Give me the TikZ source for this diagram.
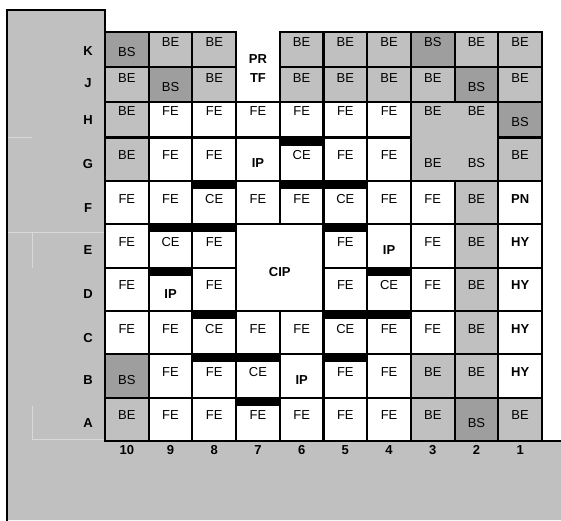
\documentclass[tikz,border=0pt]{standalone}
\usepackage{fontspec}
\setmainfont{Liberation Sans}
\definecolor{lg}{HTML}{C0C0C0}
\definecolor{dg}{HTML}{9E9E9E}
\definecolor{faint}{HTML}{D8D8D8}
\begin{document}
\begin{tikzpicture}[x=1pt,y=-1pt,
  gridline/.style={line width=2.1pt, line cap=rect},
  lbl/.style={anchor=base, inner sep=0pt, font=\fontsize{13}{15}\selectfont},
  hdr/.style={anchor=base, inner sep=0pt, font=\fontsize{13}{15}\selectfont\bfseries},
  faintline/.style={draw=faint, line width=0.8pt}]
\useasboundingbox (0,0) rectangle (561,520);
% background panel
\fill[lg] (7,10) -- (105,10) -- (105,441) -- (561,441) -- (561,520) -- (7,520) -- cycle;
\draw[faintline] (7,137) -- (32,137);
\draw[faintline] (7,232.5) -- (105,232.5);
\draw[faintline] (32,232.5) -- (32,268);
\draw[faintline] (32,406) -- (32,439) -- (105,439);
% light gray cells
\foreach \c/\ya/\yb in {9/32/67,8/32/67,6/32/67,5/32/67,4/32/67,2/32/67,1/32/67,
  10/67/102,8/67/102,6/67/102,5/67/102,4/67/102,3/67/102,1/67/102,
  10/102/137.5,3/102/137.5,2/102/137.5,
  10/137.5/180.9,3/137.5/180.9,2/137.5/180.9,1/137.5/180.9,
  2/180.9/224.2,2/224.2/267.6,2/267.6/311,2/311/354.3,
  3/354.3/397.7,2/354.3/397.7,
  10/397.7/441,3/397.7/441,1/397.7/441}
  \fill[lg] ({105+(10-\c)*43.7},\ya) rectangle ({148.7+(10-\c)*43.7},\yb);
% dark gray cells
\foreach \c/\ya/\yb in {10/32/67,3/32/67,9/67/102,2/67/102,1/102/137.5,10/354.3/397.7,2/397.7/441}
  \fill[dg] ({105+(10-\c)*43.7},\ya) rectangle ({148.7+(10-\c)*43.7},\yb);
% black bars on top of cells
\foreach \c/\ya in {6/137.5,8/180.9,6/180.9,5/180.9,9/224.2,8/224.2,5/224.2,9/267.6,4/267.6,
  8/311,5/311,4/311,8/354.3,7/354.3,5/354.3,7/397.7}
  \fill[black] ({105+(10-\c)*43.7},\ya) rectangle ({148.7+(10-\c)*43.7},\ya+8);
% panel border
\draw[gridline] (7,520) -- (7,10) -- (105,10) -- (105,441) -- (561,441);
% horizontal grid lines
\draw[gridline] (105,32) -- (236.1,32) (279.8,32) -- (542,32);
\draw[gridline] (105,67) -- (236.1,67) (279.8,67) -- (542,67);
\draw[gridline] (105,102) -- (542,102);
\draw[gridline] (105,137.5) -- (410.9,137.5) (498.3,137.5) -- (542,137.5);
\draw[gridline] (105,180.9) -- (542,180.9);
\draw[gridline] (105,224.2) -- (542,224.2);
\draw[gridline] (105,267.6) -- (236.1,267.6) (323.5,267.6) -- (542,267.6);
\draw[gridline] (105,311) -- (542,311);
\draw[gridline] (105,354.3) -- (542,354.3);
\draw[gridline] (105,397.7) -- (542,397.7);
% vertical grid lines
\foreach \x in {148.7,192.4,236.1,323.5,367.2,410.9,498.3,542}
  \draw[gridline] (\x,32) -- (\x,441);
\draw[gridline] (279.8,32) -- (279.8,224.2) (279.8,311) -- (279.8,441);
\draw[gridline] (454.6,32) -- (454.6,102) (454.6,180.9) -- (454.6,441);
% cell texts
\foreach \c/\t/\o in {10/BS/19.5,9/BE/9.5,8/BE/9.5,6/BE/9.5,5/BE/9.5,4/BE/9.5,3/BS/9.5,2/BE/9.5,1/BE/9.5}
  \node[lbl] (K\c) at ({126.85+(10-\c)*43.7},{32+\o+4.6}) {\t};
\foreach \c/\t/\o in {10/BE/10.5,9/BS/20,8/BE/10.5,6/BE/10.5,5/BE/10.5,4/BE/10.5,3/BE/10.5,2/BS/20,1/BE/10.5}
  \node[lbl] (J\c) at ({126.85+(10-\c)*43.7},{67+\o+4.6}) {\t};
\foreach \c/\t/\o in {10/BE/9,9/FE/9,8/FE/9,7/FE/9,6/FE/9,5/FE/9,4/FE/9,3/BE/9,2/BE/9,1/BS/19.5}
  \node[lbl] (H\c) at ({126.85+(10-\c)*43.7},{102+\o+4.6}) {\t};
\foreach \c/\t/\o in {10/BE/17,9/FE/17,8/FE/17,7/\textbf{IP}/25.5,6/CE/17,5/FE/17,4/FE/17,3/BE/25.5,2/BS/25.5,1/BE/17}
  \node[lbl] (G\c) at ({126.85+(10-\c)*43.7},{137.5+\o+4.6}) {\t};
\foreach \c/\t/\o in {10/FE/17.5,9/FE/17.5,8/CE/17.5,7/FE/17.5,6/FE/17.5,5/CE/17.5,4/FE/17.5,3/FE/17.5,2/BE/17.5,1/\textbf{PN}/17.5}
  \node[lbl] (F\c) at ({126.85+(10-\c)*43.7},{180.9+\o+4.6}) {\t};
\foreach \c/\t/\o in {10/FE/17.5,9/CE/17.5,8/FE/17.5,5/FE/17.5,4/\textbf{IP}/25.5,3/FE/17.5,2/BE/17.5,1/\textbf{HY}/17.5}
  \node[lbl] (E\c) at ({126.85+(10-\c)*43.7},{224.2+\o+4.6}) {\t};
\foreach \c/\t/\o in {10/FE/17.5,9/\textbf{IP}/26.5,8/FE/17.5,5/FE/17.5,4/CE/17.5,3/FE/17.5,2/BE/17.5,1/\textbf{HY}/17.5}
  \node[lbl] (D\c) at ({126.85+(10-\c)*43.7},{267.6+\o+4.6}) {\t};
\foreach \c/\t/\o in {10/FE/17.5,9/FE/17.5,8/CE/17.5,7/FE/17.5,6/FE/17.5,5/CE/17.5,4/FE/17.5,3/FE/17.5,2/BE/17.5,1/\textbf{HY}/17.5}
  \node[lbl] (C\c) at ({126.85+(10-\c)*43.7},{311+\o+4.6}) {\t};
\foreach \c/\t/\o in {10/BS/25.5,9/FE/17.5,8/FE/17.5,7/CE/17.5,6/\textbf{IP}/25.5,5/FE/17.5,4/FE/17.5,3/BE/17.5,2/BE/17.5,1/\textbf{HY}/17.5}
  \node[lbl] (B\c) at ({126.85+(10-\c)*43.7},{354.3+\o+4.6}) {\t};
\foreach \c/\t/\o in {10/BE/17.5,9/FE/17.5,8/FE/17.5,7/FE/17.5,6/FE/17.5,5/FE/17.5,4/FE/17.5,3/BE/17.5,2/BS/25.5,1/BE/17.5}
  \node[lbl] (A\c) at ({126.85+(10-\c)*43.7},{397.7+\o+4.6}) {\t};
% merged cells
\node[hdr] (PR) at (257.95,63.6) {PR};
\node[hdr] (TF) at (257.95,82.6) {TF};
\node[hdr] (CIP) at (279.8,276.6) {CIP};
% row labels
\foreach \r/\y in {K/51,J/83,H/119.5,G/163.5,F/208,E/249.5,D/294,C/337.5,B/380,A/423}
  \node[hdr] (row\r) at (88,\y+4.6) {\r};
% column labels
\foreach \c in {10,9,...,1}
  \node[hdr] (col\c) at ({126.85+(10-\c)*43.7},454.6) {\c};
\end{tikzpicture}
\end{document}
